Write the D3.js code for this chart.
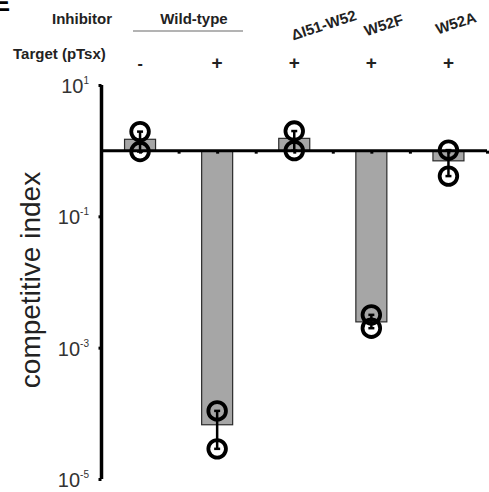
<!DOCTYPE html>
<html>
<head>
<meta charset="utf-8">
<script src="https://cdn.jsdelivr.net/npm/d3@7"></script>
<style>
  body { margin: 0; background: #fff; }
  svg { display: block; font-family: "Liberation Sans", Arial, sans-serif; }
</style>
</head>
<body>
<svg width="489" height="492"></svg>
<script>
"use strict";

// data
const groups = [1, 2, 3, 4, 5];
const inhibitorLabels = ["", "", "\u0394I51-W52", "W52F", "W52A"];
const targetLabels = ["-", "+", "+", "+", "+"];
const barValues = [1.49, 6.7e-5, 1.54, 2.47e-3, 0.70];
const rep1 = [1.95, 1.09e-4, 1.99, 3.16e-3, 1.02];
const rep2 = [0.97, 2.88e-5, 1.0, 1.98e-3, 0.41];
const yTicks = [1, -1, -3, -5];

const svg = d3.select("svg");

const x = d3.scaleLinear().domain([0.5, 5.5]).range([101.5, 487]);
const y = d3.scaleLog().domain([1e-5, 10]).range([479, 85]);
const barW = 31;
const r = 8.8;

// header (panel letter is cut off at the corner, as in the source figure)
svg.append("text")
  .attr("x", -6).attr("y", 11)
  .attr("font-size", 24).attr("font-weight", "bold")
  .text("E");

svg.append("text")
  .attr("x", 52).attr("y", 23.5)
  .attr("font-size", 15).attr("font-weight", "bold")
  .attr("fill", "#222")
  .text("Inhibitor");

svg.append("text")
  .attr("x", 194).attr("y", 23.5)
  .attr("text-anchor", "middle")
  .attr("font-size", 15).attr("font-weight", "bold")
  .attr("fill", "#222")
  .text("Wild-type");

svg.append("line")
  .attr("x1", 133).attr("x2", 243)
  .attr("y1", 31).attr("y2", 31)
  .attr("stroke", "#9a9a9a").attr("stroke-width", 1.5);

svg.append("text")
  .attr("x", 13).attr("y", 58.5)
  .attr("font-size", 15).attr("font-weight", "bold")
  .attr("fill", "#222")
  .text("Target (pTsx)");

svg.selectAll(".target")
  .data(groups)
  .enter()
  .append("text")
  .attr("class", "target")
  .attr("x", d => x(d))
  .attr("y", 68.5)
  .attr("text-anchor", "middle")
  .attr("font-size", (d, i) => (targetLabels[i] === "+" ? 19 : 16))
  .attr("font-weight", "bold")
  .attr("fill", "#222")
  .text((d, i) => targetLabels[i]);

const labelShift = [0, 0, 31, 14, 9];
const labelY = [0, 0, 30, 30, 28];
svg.selectAll(".inhib")
  .data(groups.filter((d, i) => inhibitorLabels[i] !== ""))
  .enter()
  .append("text")
  .attr("class", "inhib")
  .attr("transform", d => `translate(${x(d) + labelShift[d - 1]},${labelY[d - 1]}) rotate(-18)`)
  .attr("text-anchor", "middle")
  .attr("font-size", 15)
  .attr("font-weight", "bold")
  .attr("fill", "#222")
  .text(d => inhibitorLabels[d - 1]);

// bars
svg.selectAll(".bar")
  .data(groups)
  .enter()
  .append("rect")
  .attr("class", "bar")
  .attr("x", d => x(d) - barW / 2)
  .attr("width", barW)
  .attr("y", (d, i) => Math.min(y(barValues[i]), y(1)))
  .attr("height", (d, i) => Math.abs(y(barValues[i]) - y(1)))
  .attr("fill", "#a6a6a6")
  .attr("stroke", "#2a2a2a")
  .attr("stroke-width", 1.2);

// y axis
const yAxis = d3.axisLeft(y)
  .tickValues(yTicks.map(e => Math.pow(10, e)))
  .tickSize(3)
  .tickFormat("");

const yAxisG = svg.append("g")
  .attr("transform", "translate(101.5,0)")
  .call(yAxis);
yAxisG.select(".domain").attr("stroke-width", 3.5).attr("d", `M0,${y(10)}V${y(1e-5)}`);
yAxisG.selectAll(".tick line").attr("stroke-width", 3);

const tickLabels = svg.selectAll(".ylab")
  .data(yTicks)
  .enter()
  .append("text")
  .attr("class", "ylab")
  .attr("x", 89)
  .attr("y", d => y(Math.pow(10, d)) + 8)
  .attr("text-anchor", "end")
  .attr("fill", "#333");
tickLabels.append("tspan").attr("font-size", 20).text("10");
tickLabels.append("tspan")
  .attr("font-size", 10)
  .attr("dy", -9)
  .text(d => d);

svg.append("text")
  .attr("transform", `translate(40,${y(1e-2) - 2}) rotate(-90)`)
  .attr("text-anchor", "middle")
  .attr("font-size", 28)
  .attr("fill", "#222")
  .text("competitive index");

// baseline axis at 1
const xAxis = d3.axisBottom(x)
  .tickValues(d3.range(1, 5.6, 0.5))
  .tickSize(3)
  .tickFormat("");
const xAxisG = svg.append("g")
  .attr("transform", `translate(0,${y(1)})`)
  .call(xAxis);
xAxisG.select(".domain").attr("stroke-width", 3).attr("d", `M${x(0.5)},0H${x(5.5)}`);
xAxisG.selectAll(".tick line").attr("stroke-width", 3);

// error bars
const eb = svg.selectAll(".err")
  .data(groups)
  .enter()
  .append("g")
  .attr("class", "err")
  .attr("stroke", "#000")
  .attr("stroke-width", 2.5);
eb.append("line")
  .attr("x1", d => x(d)).attr("x2", d => x(d))
  .attr("y1", (d, i) => y(rep1[i])).attr("y2", (d, i) => y(rep2[i]));
eb.append("line")
  .attr("x1", d => x(d) - 3).attr("x2", d => x(d) + 3)
  .attr("y1", (d, i) => y(rep1[i])).attr("y2", (d, i) => y(rep1[i]));
eb.append("line")
  .attr("x1", d => x(d) - 3).attr("x2", d => x(d) + 3)
  .attr("y1", (d, i) => y(rep2[i])).attr("y2", (d, i) => y(rep2[i]));

// replicate points
const pts = [];
groups.forEach((g, i) => {
  pts.push({ g: g, v: rep1[i] });
  pts.push({ g: g, v: rep2[i] });
});
svg.selectAll(".pt")
  .data(pts)
  .enter()
  .append("circle")
  .attr("class", "pt")
  .attr("cx", d => x(d.g))
  .attr("cy", d => y(d.v))
  .attr("r", r)
  .attr("fill", "none")
  .attr("stroke", "#000")
  .attr("stroke-width", 3.8);
</script>
</body>
</html>
